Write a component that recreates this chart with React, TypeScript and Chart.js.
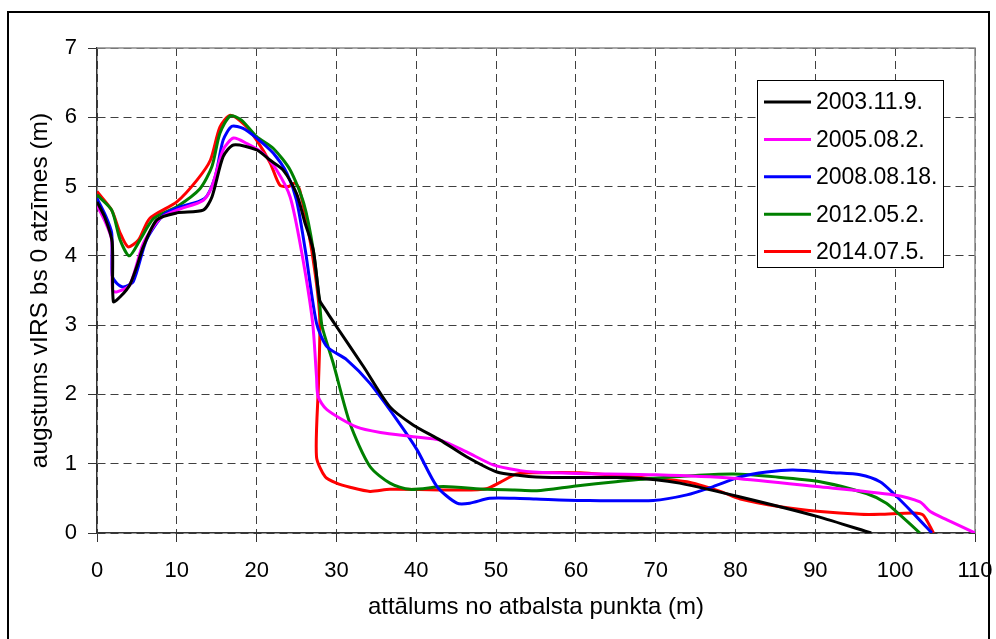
import React, { useEffect, useRef } from 'react';
import { Chart, registerables } from 'chart.js';
Chart.register(...registerables);

const seriesLabels = ['2003.11.9.', '2005.08.2.', '2008.08.18.', '2012.05.2.', '2014.07.5.'];
const seriesColors = ['#000000', '#FF00FF', '#0000FF', '#008000', '#FF0000'];

const xTicks = [0, 10, 20, 30, 40, 50, 60, 70, 80, 90, 100, 110];
const yTicks = [0, 1, 2, 3, 4, 5, 6, 7];

const xTitle = 'attālums no atbalsta punkta (m)';
const yTitle = 'augstums vIRS bs 0 atzīmes (m)';

const x2003 = [0, 1, 1.9, 2.05, 3, 4.1, 5, 5.8, 7.5, 10, 13.3, 14.4, 15.8, 17.1, 20, 21.7, 23.3, 25, 26, 27.1, 27.9, 28.4, 29.2, 30, 33.4, 36.7, 39.6, 43, 46.3, 50.1, 53, 55, 60, 65, 70, 73, 80.6, 90.2, 97];
const y2003 = [4.78, 4.55, 4.2, 3.34, 3.42, 3.58, 3.85, 4.13, 4.52, 4.62, 4.66, 4.85, 5.43, 5.6, 5.53, 5.38, 5.24, 4.9, 4.5, 4.08, 3.36, 3.26, 3.12, 2.98, 2.4, 1.82, 1.56, 1.34, 1.1, 0.88, 0.83, 0.81, 0.8, 0.8, 0.77, 0.72, 0.52, 0.24, 0];

const x2005 = [0, 1, 1.84, 1.95, 2.5, 4.1, 5.8, 7.9, 10, 13.3, 14.4, 15.8, 17.1, 18.8, 20.8, 22.5, 24.2, 25.6, 27.0, 27.5, 27.7, 28.8, 32.5, 35.5, 39.6, 43, 46.3, 49.7, 53, 54.7, 60, 70.1, 79.7, 90.2, 99.8, 103.1, 104.4, 106.5, 110];
const y2005 = [4.73, 4.5, 4.23, 3.5, 3.48, 3.58, 4.18, 4.54, 4.66, 4.8, 5.0, 5.53, 5.7, 5.62, 5.48, 5.24, 4.85, 4.08, 3.05, 2.26, 1.97, 1.78, 1.53, 1.45, 1.39, 1.34, 1.17, 0.98, 0.9, 0.88, 0.86, 0.84, 0.79, 0.67, 0.55, 0.45, 0.31, 0.19, 0];

const x2008 = [0, 1, 1.84, 1.9, 2.5, 3.3, 4.55, 6.2, 8.3, 10, 13.5, 14.8, 15.8, 16.9, 18.3, 20, 22.1, 23.8, 25, 26.1, 27.5, 28.8, 31.3, 34.2, 37.6, 40.1, 42.6, 45.1, 46.7, 49.2, 52.3, 55, 60.5, 69.7, 73.9, 77.2, 80.6, 83.9, 87.2, 92.3, 95.6, 98.1, 99.8, 102.3, 104.6];
const y2008 = [4.83, 4.6, 4.33, 3.72, 3.6, 3.55, 3.63, 4.23, 4.59, 4.69, 4.83, 5.14, 5.67, 5.87, 5.84, 5.7, 5.48, 5.19, 4.8, 4.08, 3.03, 2.69, 2.5, 2.16, 1.63, 1.2, 0.67, 0.43, 0.43, 0.5, 0.5, 0.49, 0.47, 0.47, 0.55, 0.67, 0.81, 0.88, 0.91, 0.87, 0.84, 0.74, 0.57, 0.28, 0];

const x2012 = [0, 1.84, 2.9, 4.05, 5.4, 7.1, 10, 12.9, 14.4, 15.4, 16.7, 18.1, 20, 22.1, 24.2, 25.9, 27.1, 27.9, 28.2, 29.6, 31.7, 34.2, 36.7, 39.2, 43.4, 48.8, 52.3, 55.1, 60, 65, 69.7, 75, 79.7, 85, 90.6, 96.4, 98.9, 100.6, 103.1];
const y2012 = [4.88, 4.66, 4.23, 4.0, 4.23, 4.54, 4.71, 4.97, 5.29, 5.77, 6.02, 5.96, 5.72, 5.55, 5.24, 4.76, 4.08, 3.3, 2.98, 2.45, 1.58, 0.96, 0.72, 0.63, 0.67, 0.63, 0.62, 0.61, 0.68, 0.74, 0.79, 0.83, 0.85, 0.81, 0.74, 0.57, 0.43, 0.26, 0];

const x2014 = [0, 1.84, 2.9, 3.9, 5.2, 6.6, 10, 12.5, 14.2, 15.4, 16.7, 18.5, 20, 21.7, 22.9, 24.0, 24.8, 25.4, 26.9, 27.9, 27.75, 27.5, 28.6, 30.0, 31.7, 34.2, 36.7, 45.9, 48.8, 50.5, 52.5, 54.7, 60.5, 69.3, 73.9, 78.1, 80.6, 85.6, 90.6, 95.6, 98.1, 102.3, 103.5, 104.8];
const y2014 = [4.93, 4.66, 4.33, 4.13, 4.23, 4.54, 4.78, 5.09, 5.38, 5.86, 6.03, 5.89, 5.67, 5.34, 5.02, 5.0, 5.05, 4.95, 4.08, 3.12, 2.16, 1.1, 0.81, 0.72, 0.66, 0.6, 0.63, 0.62, 0.64, 0.73, 0.85, 0.87, 0.87, 0.79, 0.74, 0.6, 0.49, 0.38, 0.31, 0.27, 0.27, 0.29, 0.26, 0];

const seriesX = [x2003, x2005, x2008, x2012, x2014];
const seriesY = [y2003, y2005, y2008, y2012, y2014];

const FONT = "'Liberation Sans', Arial, sans-serif";

const framePlugin = {
  id: 'frame',
  beforeDraw(chart: any) {
    const { ctx, width, height } = chart;
    ctx.save();
    ctx.fillStyle = '#ffffff';
    ctx.fillRect(0, 0, width, height);
    ctx.restore();
  },
  beforeDatasetsDraw(chart: any) {
    const { ctx, chartArea } = chart;
    ctx.save();
    ctx.strokeStyle = '#8a8a8a';
    ctx.lineWidth = 1.5;
    ctx.beginPath();
    ctx.moveTo(chartArea.left, chartArea.top);
    ctx.lineTo(chartArea.right, chartArea.top);
    ctx.lineTo(chartArea.right, chartArea.bottom);
    ctx.stroke();
    ctx.restore();
  },
  afterDraw(chart: any) {
    const { ctx, width } = chart;
    ctx.save();
    ctx.strokeStyle = '#000000';
    ctx.lineWidth = 2;
    ctx.strokeRect(8, 12, width - 15, 700);
    ctx.restore();
  },
};

const boxLegendPlugin = {
  id: 'boxLegend',
  afterDatasetsDraw(chart: any) {
    const { ctx, chartArea } = chart;
    const left = chartArea.right - 218;
    const top = chartArea.top + 32;
    const w = 186;
    const h = 187;
    ctx.save();
    ctx.fillStyle = '#ffffff';
    ctx.fillRect(left, top, w, h);
    ctx.strokeStyle = '#000000';
    ctx.lineWidth = 1;
    ctx.strokeRect(left + 0.5, top + 0.5, w, h);
    ctx.font = `23px ${FONT}`;
    ctx.textAlign = 'left';
    ctx.textBaseline = 'middle';
    chart.data.datasets.forEach((ds: any, i: number) => {
      const y = top + 22 + i * 37.4;
      ctx.strokeStyle = ds.borderColor;
      ctx.lineWidth = 3;
      ctx.beginPath();
      ctx.moveTo(left + 7, y);
      ctx.lineTo(left + 54, y);
      ctx.stroke();
      ctx.fillStyle = '#000000';
      ctx.fillText(ds.label, left + 59, y + 1);
    });
    ctx.restore();
  },
};

export default function App() {
  const ref = useRef<HTMLCanvasElement | null>(null);
  useEffect(() => {
    if (!ref.current) return;
    const datasets = seriesLabels.map((label, i) => ({
      label,
      data: seriesX[i].map((x, j) => ({ x, y: seriesY[i][j] })),
      borderColor: seriesColors[i],
      backgroundColor: seriesColors[i],
      borderWidth: 3,
      pointRadius: 0,
      showLine: true,
      tension: 0.25,
      fill: false,
    }));
    const chart = new Chart(ref.current, {
      type: 'scatter',
      data: { datasets },
      options: {
        animation: false,
        responsive: false,
        maintainAspectRatio: false,
        layout: { padding: { left: 0, top: 48, right: 21, bottom: 0 } },
        plugins: {
          legend: { display: false },
          tooltip: { enabled: false },
        },
        scales: {
          x: {
            type: 'linear',
            min: 0,
            max: 110,
            afterBuildTicks: (s: any) => { s.ticks = xTicks.map((v) => ({ value: v })); },
            afterFit: (s: any) => { s.height = 106; s.paddingLeft = 0; s.paddingRight = 0; },
            ticks: { color: '#000', font: { family: FONT, size: 22 }, padding: 16, maxRotation: 0, autoSkip: false },
            grid: { color: '#404040', lineWidth: 1, tickLength: 9, tickColor: '#333', tickBorderDash: [], tickWidth: 1 },
            border: { color: '#333', width: 1.5, dash: [8, 5] },
            title: { display: true, text: xTitle, color: '#000', font: { family: FONT, size: 24 }, padding: { top: 0, bottom: 17 } },
          },
          y: {
            type: 'linear',
            min: 0,
            max: 7,
            afterBuildTicks: (s: any) => { s.ticks = yTicks.map((v) => ({ value: v })); },
            afterFit: (s: any) => { s.width = 97; s.paddingTop = 0; s.paddingBottom = 0; },
            ticks: { color: '#000', font: { family: FONT, size: 22 }, padding: 11, autoSkip: false },
            grid: { color: '#404040', lineWidth: 1, tickLength: 9, tickColor: '#333', tickBorderDash: [], tickWidth: 1 },
            border: { color: '#333', width: 1.5, dash: [8, 5] },
            title: { display: true, text: yTitle, color: '#000', font: { family: FONT, size: 24.5 }, padding: { top: 26, bottom: 0 } },
          },
        },
      },
      plugins: [framePlugin, boxLegendPlugin],
    });
    return () => chart.destroy();
  }, []);
  return (
    <div style={{ position: 'fixed', left: 0, top: 0, width: 996, height: 639, background: '#fff' }}>
      <canvas ref={ref} width={996} height={639} style={{ display: 'block', width: 996, height: 639 }} />
    </div>
  );
}
